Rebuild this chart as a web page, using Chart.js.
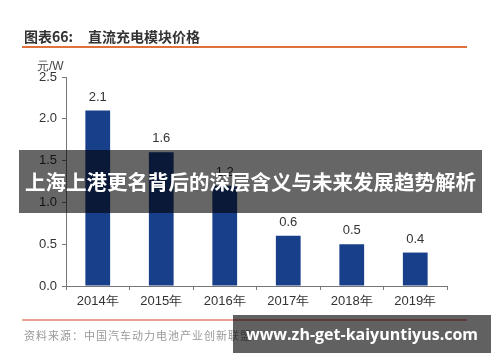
<!DOCTYPE html>
<html>
<head>
<meta charset="utf-8">
<script src="https://cdn.jsdelivr.net/npm/chart.js@4"></script>
<style>
  body { margin: 0; background: #fff; }
  #wrap { position: relative; width: 500px; height: 362px; overflow: hidden; background: #fff; font-family: "Liberation Sans", Arial, sans-serif; }
  #myChart { position: absolute; left: 0; top: 0; }
  .title { position: absolute; top: 26px; font-family: "Noto Sans CJK SC"; font-weight: bold; font-size: 14px; color: #333; white-space: nowrap; }
  .line { position: absolute; left: 22px; width: 445px; }
  #unit { position: absolute; left: 37px; top: 58px; font-size: 12px; color: #444; }
  #source { position: absolute; left: 24px; top: 327px; font-family: "Noto Sans CJK SC"; font-size: 11px; color: #999; white-space: nowrap; letter-spacing: 1px; }
  #banner { position: absolute; left: 19px; top: 150px; width: 463px; height: 63px; background: rgba(0,0,0,0.6); color: #fff; font-family: "Noto Sans CJK SC"; font-weight: bold; font-size: 20.5px; line-height: 63px; text-align: center; white-space: nowrap; }
  #mark { position: absolute; left: 233px; top: 315px; width: 258px; height: 38px; background: rgba(0,0,0,0.62); color: #fff; font-family: "Open Sans"; font-weight: bold; font-size: 16px; line-height: 38px; text-align: center; white-space: nowrap; }
</style>
</head>
<body>
<div id="wrap">
  <canvas id="myChart" width="500" height="362"></canvas>
  <div class="title" style="left:24px">图表66:</div>
  <div class="title" style="left:88px">直流充电模块价格</div>
  <div class="line" style="top:46px;height:2px;background:#e0703c"></div>
  <div id="unit">元/W</div>
  <div class="line" style="top:319px;height:2px;background:#eaa393"></div>
  <div id="source">资料来源：中国汽车动力电池产业创新联盟</div>
  <div id="banner">上海上港更名背后的深层含义与未来发展趋势解析</div>
  <div id="mark">www.zh-get-kaiyuntiyus.com</div>
</div>
<script>
// 数据
const years = ["2014年", "2015年", "2016年", "2017年", "2018年", "2019年"];
const prices = [2.1, 1.6, 1.2, 0.6, 0.5, 0.4];
const yTicks = [0, 0.5, 1.0, 1.5, 2.0, 2.5];

// 柱子上方的数值
const valueLabels = {
  id: 'valueLabels',
  afterDatasetsDraw(chart) {
    const ctx = chart.ctx;
    const meta = chart.getDatasetMeta(0);
    ctx.save();
    ctx.font = '13px "Liberation Sans", Arial, sans-serif';
    ctx.fillStyle = '#333';
    ctx.textAlign = 'center';
    ctx.textBaseline = 'bottom';
    meta.data.forEach((bar, i) => {
      ctx.fillText(prices[i].toFixed(1), bar.x, bar.y - 7);
    });
    ctx.restore();
  }
};

const ctx = document.getElementById('myChart').getContext('2d');
new Chart(ctx, {
  type: 'bar',
  data: {
    labels: years,
    datasets: [{
      data: prices,
      backgroundColor: '#173f8a',
      barPercentage: 0.78,
      categoryPercentage: 0.5
    }]
  },
  options: {
    responsive: false,
    animation: false,
    layout: { padding: { top: 77, right: 53, bottom: 46, left: 0 } },
    plugins: { legend: { display: false }, tooltip: { enabled: false } },
    scales: {
      x: {
        afterFit(scale) { scale.height = 30; },
        grid: { display: true, drawOnChartArea: false, drawTicks: true, tickLength: 4, color: '#777' },
        border: { display: true, color: '#777' },
        ticks: { color: '#333', font: { size: 13, family: '"Liberation Sans", Arial' }, padding: 4 }
      },
      y: {
        min: 0,
        max: 2.5,
        afterFit(scale) { scale.width = 66; },
        afterBuildTicks(scale) { scale.ticks = yTicks.map(v => ({ value: v })); },
        grid: { display: true, drawOnChartArea: false, drawTicks: true, tickLength: 4, color: '#777' },
        border: { display: true, color: '#777' },
        ticks: {
          color: '#333',
          font: { size: 13, family: '"Liberation Sans", Arial' },
          padding: 5,
          callback: v => v.toFixed(1)
        }
      }
    }
  },
  plugins: [valueLabels]
});
</script>
</body>
</html>
